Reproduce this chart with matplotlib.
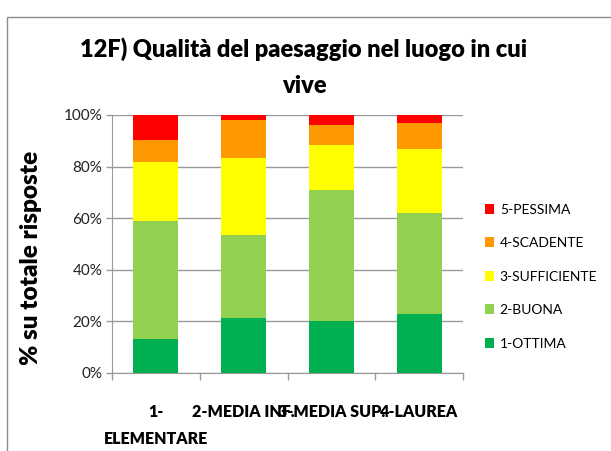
import matplotlib
matplotlib.use("Agg")
import matplotlib.pyplot as plt
from matplotlib.patches import Rectangle
import numpy as np

categories = ["1-\nELEMENTARE", "2-MEDIA INF.", "3-MEDIA SUP.", "4-LAUREA"]
series_names = ["1-OTTIMA", "2-BUONA", "3-SUFFICIENTE", "4-SCADENTE", "5-PESSIMA"]
ottima = [13.3, 21.4, 20.0, 23.0]
buona = [45.7, 32.2, 50.8, 38.9]
sufficiente = [22.9, 29.8, 17.7, 25.0]
scadente = [8.5, 14.7, 7.7, 10.1]
pessima = [9.6, 1.9, 3.8, 3.0]
colors = ["#00B050", "#92D050", "#FFFF00", "#FF9900", "#FF0000"]

values = [ottima, buona, sufficiente, scadente, pessima]

plt.rcParams['font.family'] = ['Lato', 'DejaVu Sans']

W, H = 611, 451
fig = plt.figure(figsize=(W / 100, H / 100), dpi=100)

# chart area border
fig.patches.append(Rectangle((7 / W, -0.1), 1.2, 1 - 17 / H + 0.1, transform=fig.transFigure,
                             fill=False, edgecolor="#8c8c8c", linewidth=1.0))

ax = fig.add_axes([112 / W, 1 - 373 / H, (463 - 112) / W, (373 - 115) / H])
x = np.arange(len(categories))
bottom = np.zeros(len(categories))
handles = []
for name, vals, c in zip(series_names, values, colors):
    h = ax.bar(x, vals, width=0.51, bottom=bottom, color=c, label=name, zorder=3)
    handles.append(h)
    bottom += np.array(vals)

ax.set_xlim(-0.5, len(categories) - 0.5)
ax.set_ylim(0, 100)
ax.set_yticks(np.arange(0, 101, 20))
ax.set_yticklabels([f"{v}%" for v in range(0, 101, 20)], fontsize=11, color="#222222")
ax.yaxis.grid(True, color="#999999", linewidth=1.0, zorder=0)
ax.set_xticks(np.arange(-0.5, len(categories), 1.0), minor=False)
ax.set_xticklabels([])
ax.tick_params(axis='x', which='major', length=5, color="#999999", width=1)
ax.tick_params(axis='y', length=4, color="#999999", width=1, pad=3)
ax.set_xticks(x, minor=True)
ax.set_xticklabels(categories, minor=True, fontsize=11.5, fontweight='heavy',
                   linespacing=1.85)
ax.tick_params(axis='x', which='minor', length=0, pad=22)
for lbl in ax.get_xticklabels(minor=True):
    lbl.set_verticalalignment('top')
for s in ["top", "right"]:
    ax.spines[s].set_visible(False)
ax.spines["left"].set_color("#999999")
ax.spines["bottom"].set_color("#999999")

fig.text(304 / W, 1 - 67 / H, "12F) Qualità del paesaggio nel luogo in cui\nvive",
         ha="center", va="center", fontsize=17, fontweight="heavy", linespacing=1.75)
fig.text(31 / W, 1 - 258 / H, "% su totale risposte", rotation=90, ha="center", va="center",
         fontsize=17.5, fontweight="heavy")

leg = fig.legend(handles[::-1], series_names[::-1], loc="upper left",
                 bbox_to_anchor=(472 / W, 1 - 191 / H), frameon=False, fontsize=10,
                 handlelength=0.7, handleheight=0.7, labelspacing=1.55, handletextpad=0.4)

fig.savefig("out.png", dpi=100)
